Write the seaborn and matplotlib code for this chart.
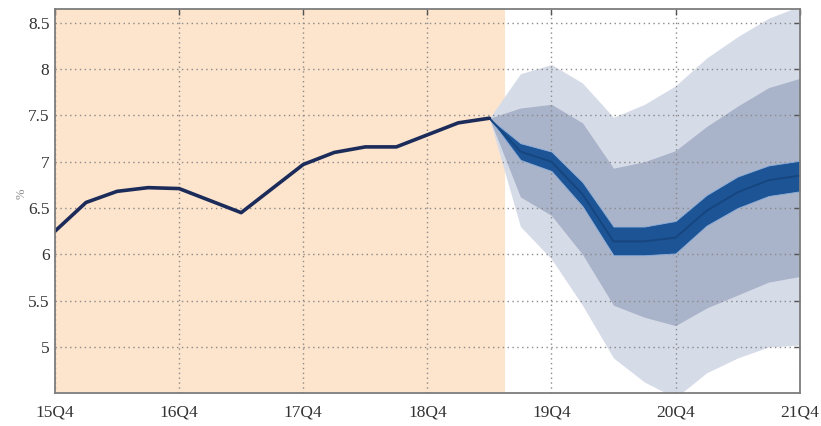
import numpy as np
import pandas as pd
import matplotlib
matplotlib.use("Agg")
import matplotlib.pyplot as plt
import seaborn as sns

# Quarter labels on the x axis (one tick per year)
quarters = ["15Q4", "16Q1", "16Q2", "16Q3", "16Q4", "17Q1", "17Q2", "17Q3", "17Q4",
            "18Q1", "18Q2", "18Q3", "18Q4", "19Q1", "19Q2", "19Q3", "19Q4",
            "20Q1", "20Q2", "20Q3", "20Q4", "21Q1", "21Q2", "21Q3", "21Q4"]
tick_labels = ["15Q4", "16Q4", "17Q4", "18Q4", "19Q4", "20Q4", "21Q4"]

# Observed rate, 15Q4 .. 19Q2
history = [6.25, 6.56, 6.68, 6.72, 6.71, 6.58, 6.45, 6.71, 6.97, 7.10,
           7.16, 7.16, 7.29, 7.42, 7.47]

# Forecast fan, 19Q2 .. 21Q4
median = [7.47, 7.11, 7.00, 6.65, 6.14, 6.14, 6.18, 6.47, 6.67, 6.80, 6.85]
inner_hi = [7.47, 7.20, 7.11, 6.78, 6.30, 6.30, 6.36, 6.64, 6.84, 6.96, 7.01]
inner_lo = [7.47, 7.02, 6.90, 6.52, 5.99, 5.99, 6.01, 6.31, 6.50, 6.63, 6.68]
mid_hi = [7.47, 7.58, 7.62, 7.42, 6.93, 7.00, 7.12, 7.38, 7.60, 7.80, 7.90]
mid_lo = [7.47, 6.62, 6.42, 6.00, 5.45, 5.32, 5.23, 5.42, 5.56, 5.70, 5.76]
outer_hi = [7.47, 7.95, 8.05, 7.85, 7.48, 7.62, 7.82, 8.12, 8.35, 8.55, 8.68]
outer_lo = [7.47, 6.30, 5.95, 5.45, 4.88, 4.62, 4.45, 4.72, 4.88, 5.00, 5.02]

hist_df = pd.DataFrame({"t": np.arange(len(history)), "value": history})
fc_t = np.arange(len(history) - 1, len(history) - 1 + len(median))
fc_df = pd.DataFrame({"t": fc_t, "value": median})

sns.set_style("white")
plt.rcParams["font.family"] = ["Liberation Serif", "DejaVu Serif"]

fig = plt.figure(figsize=(8.21, 4.26), dpi=100)
ax = fig.add_axes([0.067, 0.077, 0.907, 0.902])

# Shaded history period
ax.axvspan(0, 14.5, color="#fde4cc", lw=0, zorder=0)

# Fan bands
ax.fill_between(fc_t, outer_lo, outer_hi, color="#d6dbe8", lw=0, zorder=1)
ax.fill_between(fc_t, mid_lo, mid_hi, color="#a9b3c9", lw=0, zorder=2)
ax.fill_between(fc_t, inner_lo, inner_hi, color="#1d5496", edgecolor="#8fb0da",
                lw=0.6, zorder=3)
sns.lineplot(data=fc_df, x="t", y="value", ax=ax, color="#16467f", lw=1.4, zorder=4)

# Observed series
sns.lineplot(data=hist_df, x="t", y="value", ax=ax, color="#1b2b5a", lw=2.6, zorder=5)

ax.set_xlim(0, 24)
ax.set_ylim(4.5, 8.65)
ax.set_xticks(np.arange(0, 25, 4))
ax.set_xticklabels(tick_labels)
ax.set_yticks([5, 5.5, 6, 6.5, 7, 7.5, 8, 8.5])
ax.set_yticklabels(["5", "5.5", "6", "6.5", "7", "7.5", "8", "8.5"])
ax.set_xlabel("")
ax.set_ylabel("")

ax.grid(True, color="#8a8a8a", linestyle=(0, (1, 2.5)), lw=1.0, zorder=6)
ax.set_axisbelow(False)
for s in ax.spines.values():
    s.set_color("#7d7d7d")
    s.set_linewidth(1.3)
    s.set_zorder(7)

ax.tick_params(direction="in", top=True, right=True, length=4, width=1,
               color="#555555", labelsize=12.5, labelcolor="#333333", pad=8)
ax.tick_params(axis="y", pad=4)

ax.text(-0.045, 0.52, "%", transform=ax.transAxes, rotation=90,
        fontsize=9, color="#888888", ha="center", va="center")

fig.savefig("out.png", dpi=100)
